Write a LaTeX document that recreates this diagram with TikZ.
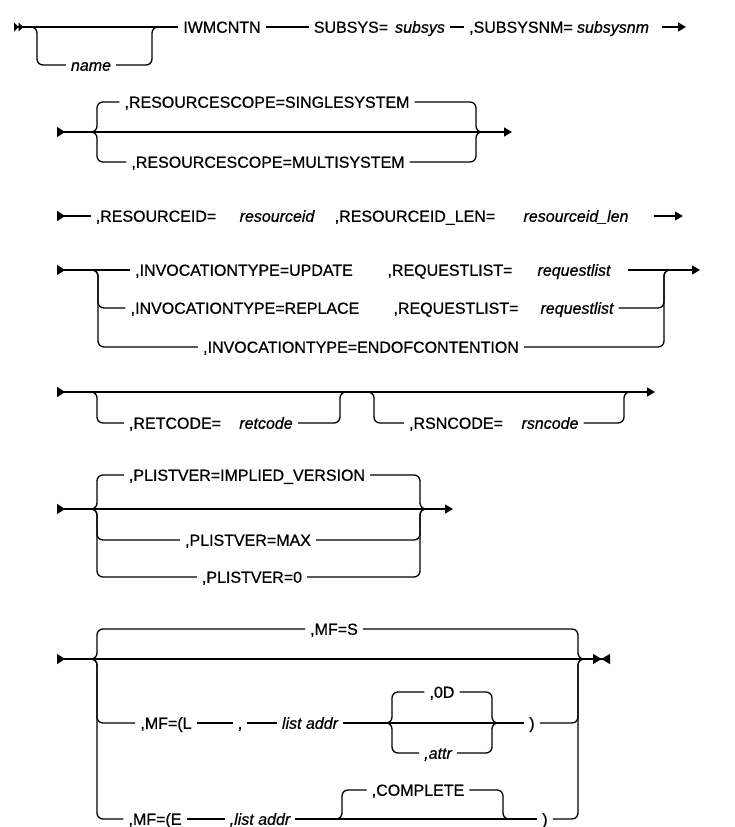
\documentclass[tikz,border=0pt]{standalone}
\usepackage{fontspec}
\setmainfont{Liberation Sans}
\newfontfamily\railfont{Liberation Sans}[FakeBold=0.7]
\usetikzlibrary{arrows.meta}

\begin{document}
\begin{tikzpicture}[x=1pt, y=-1pt,
    rail/.style={line width=1.3pt, rounded corners=6pt},
    kw/.style={inner xsep=5pt, inner ysep=1pt, text height=11.5pt, text depth=0pt, font=\railfont\fontsize{16}{19}\selectfont},
    var/.style={kw, font=\railfont\fontsize{16}{19}\selectfont\itshape},
    >={Triangle[length=8pt,width=9pt]},
    rs/.tip={Triangle[reversed,length=8pt,width=10pt]},
    rss/.tip={Triangle[reversed,length=4.5pt,width=9pt] Triangle[reversed,length=4.5pt,width=9pt]},
    bow/.tip={Triangle[length=8.5pt,width=10pt] Triangle[reversed,length=8.5pt,width=10pt]}]
    \useasboundingbox (0,0) rectangle (735,827);
    % Riga 1
    \coordinate (r1s) at (14,27);
    \coordinate (r1e) at (686,27);
    \node[kw] (iwm) at (222,27) {IWMCNTN};
    \node[var] (name) at (91,65) {name};
    \node[kw] (sub) at (351,27) {SUBSYS=};
    \node[var] (subv) at (420,27) {subsys};
    \node[kw] (snm) at (521,27) {,SUBSYSNM=};
    \node[var] (snmv) at (613,27) {subsysnm};
    \draw[rail, rss-] (r1s) -- (iwm.west);
    \draw[rail] (31,27) -| (37,65) -- (name.west);
    \draw[rail] (name.east) -| (152,27) -- (158,27);
    \draw[rail] (iwm.east) -- (sub.west);
    \draw[rail] (subv.east) -- (snm.west);
    \draw[rail, ->, shorten <=8pt] (snmv.east) -- (r1e);
    % Riga 2
    \coordinate (r2s) at (57,132);
    \coordinate (r2e) at (512,132);
    \node[kw] (single) at (267,102) {,RESOURCESCOPE=SINGLESYSTEM};
    \node[kw] (multi) at (268,162) {,RESOURCESCOPE=MULTISYSTEM};
    \draw[rail, rs->] (r2s) -- (r2e);
    \draw[rail] (91,132) -| (97,102) -- (single.west);
    \draw[rail] (91,132) -| (97,162) -- (multi.west);
    \draw[rail] (single.east) -| (476,132) -- (482,132);
    \draw[rail] (multi.east) -| (476,132) -- (482,132);
    % Riga 3
    \coordinate (r3s) at (57,216);
    \coordinate (r3e) at (683,216);
    \node[kw] (rid) at (156,216) {,RESOURCEID=};
    \node[var] (ridv) at (277,216) {resourceid};
    \node[kw] (ridl) at (415,216) {,RESOURCEID\_LEN=};
    \node[var] (ridlv) at (576,216) {resourceid\_len};
    \draw[rail, rs-] (r3s) -- (rid.west);
    \draw[rail, ->, shorten <=20pt] (ridlv.east) -- (r3e);
    % Riga 4
    \coordinate (r4s) at (57,270);
    \coordinate (r4e) at (700,270);
    \node[kw] (upd) at (244,270) {,INVOCATIONTYPE=UPDATE};
    \node[kw] (updl) at (450,270) {,REQUESTLIST=};
    \node[var] (updv) at (574,270) {requestlist};
    \node[kw] (rep) at (245,308) {,INVOCATIONTYPE=REPLACE};
    \node[kw] (repl) at (456,308) {,REQUESTLIST=};
    \node[var] (repv) at (577,308) {requestlist};
    \node[kw] (eoc) at (361,347) {,INVOCATIONTYPE=ENDOFCONTENTION};
    \draw[rail, rs-] (r4s) -- (upd.west);
    \draw[rail, ->, shorten <=12pt] (updv.east) -- (r4e);
    \draw[rail] (92,270) -| (98,308) -- (rep.west);
    \draw[rail] (92,270) -| (98,347) -- (eoc.west);
    \draw[rail] (repv.east) -| (664,270) -- (670,270);
    \draw[rail] (eoc.east) -| (664,270) -- (670,270);
    % Riga 5
    \coordinate (r5s) at (57,392);
    \coordinate (r5e) at (655,392);
    \node[kw] (ret) at (175,423) {,RETCODE=};
    \node[var] (retv) at (266,423) {retcode};
    \node[kw] (rsn) at (456,423) {,RSNCODE=};
    \node[var] (rsnv) at (550,423) {rsncode};
    \draw[rail, rs->] (r5s) -- (r5e);
    \draw[rail] (91,392) -| (97,423) -- (ret.west);
    \draw[rail] (retv.east) -| (340,392) -- (346,392);
    \draw[rail] (368,392) -| (374,423) -- (rsn.west);
    \draw[rail] (rsnv.east) -| (624,392) -- (630,392);
    % Riga 6
    \coordinate (r6s) at (57,509);
    \coordinate (r6e) at (453,509);
    \node[kw] (impl) at (247,475) {,PLISTVER=IMPLIED\_VERSION};
    \node[kw] (max) at (248,540) {,PLISTVER=MAX};
    \node[kw] (zero) at (252,577) {,PLISTVER=0};
    \draw[rail, rs->] (r6s) -- (r6e);
    \foreach \v in {impl,max,zero}{
        \draw[rail] (91,509) -| (97,0 |- \v.west) -- (\v.west);
        \draw[rail] (\v.east) -| (420,509) -- (426,509);
    }
    % Riga 7
    \coordinate (r7s) at (57,659);
    \coordinate (r7e) at (610,659);
    \node[kw] (mfs) at (334,629) {,MF=S};
    \node[kw] (mfl) at (166,723) {,MF=(L};
    \node[kw] (comma) at (240,723) {,};
    \node[var] (la) at (310,723) {list addr};
    \node[kw] (od) at (442,692) {,0D};
    \node[var] (attr) at (438,753) {,attr};
    \node[kw] (rp1) at (532,723) {)};
    \node[kw] (mfe) at (155,819) {,MF=(E};
    \node[var] (le) at (260,819) {,list addr};
    \node[kw] (comp) at (418,790) {,COMPLETE};
    \node[kw] (rp2) at (545,819) {)};
    \draw[rail, rs-bow] (r7s) -- (r7e);
    \draw[rail] (91,659) -| (97,629) -- (mfs.west);
    \draw[rail] (mfs.east) -| (578,659) -- (584,659);
    \draw[rail] (91,659) -| (97,723) -- (mfl.west);
    \draw[rail] (91,659) -| (97,819) -- (mfe.west);
    \draw[rail] (mfl.east) -- (comma.west);
    \draw[rail] (comma.east) -- (la.west);
    \draw[rail] (la.east) -- (rp1.west);
    \draw[rail] (rp1.east) -| (578,659) -- (584,659);
    \draw[rail] (386,723) -| (392,692) -- (od.west);
    \draw[rail] (386,723) -| (392,753) -- (attr.west);
    \draw[rail] (od.east) -| (492,723) -- (498,723);
    \draw[rail] (attr.east) -| (492,723) -- (498,723);
    \draw[rail] (mfe.east) -- (le.west);
    \draw[rail] (le.east) -- (rp2.west);
    \draw[rail] (336,819) -| (342,790) -- (comp.west);
    \draw[rail] (comp.east) -| (503,819) -- (509,819);
    \draw[rail] (rp2.east) -| (578,659) -- (584,659);
\end{tikzpicture}
\end{document}
